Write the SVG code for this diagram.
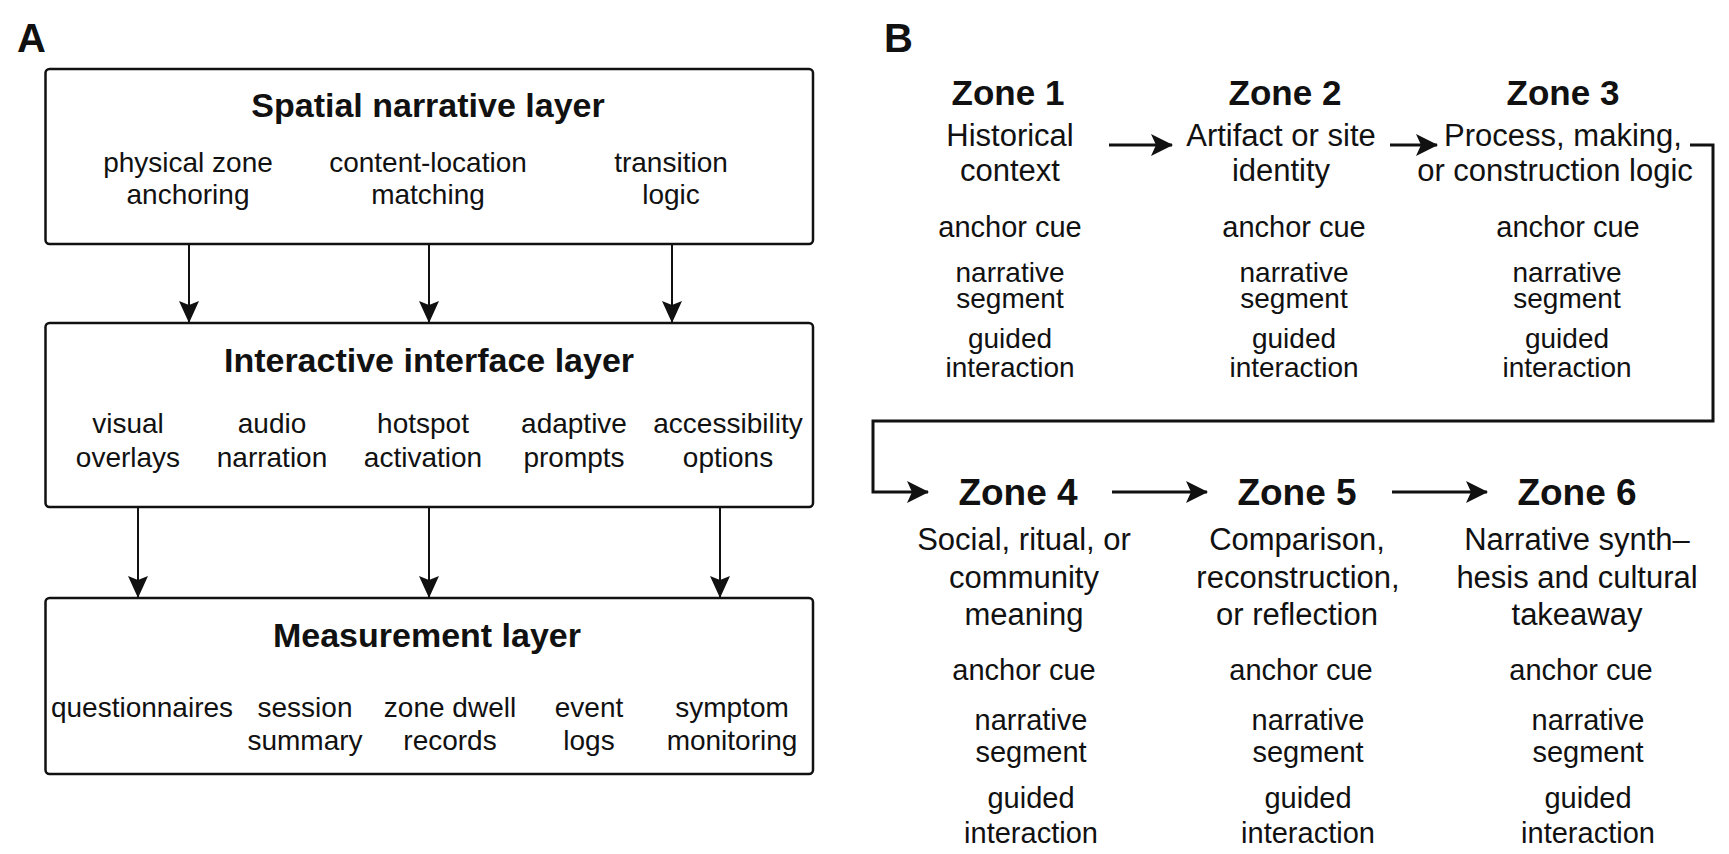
<svg xmlns="http://www.w3.org/2000/svg" width="1729" height="854" viewBox="0 0 1729 854">
<style>
text{font-family:"Liberation Sans",Arial,sans-serif;fill:#111;text-anchor:middle}
.panel{font-size:40px;font-weight:bold;text-anchor:start}
.ttl{font-size:34px;font-weight:bold}
.sub{font-size:28px}
.zt{font-size:35px;font-weight:bold}
.zt2{font-size:37px;font-weight:bold}
.zd{font-size:31px}
.zi{font-size:29px}
.zs{font-size:28px}
.box{fill:#fff;stroke:#111;stroke-width:2.5}
.ca{stroke:#111;stroke-width:2;fill:none}
.cb{stroke:#111;stroke-width:3;fill:none}
</style>
<defs>
<marker id="ha" viewBox="0 0 22 20" refX="21" refY="10" markerWidth="22" markerHeight="20" markerUnits="userSpaceOnUse" orient="auto"><path d="M0,0 L22,10 L0,20 L4,10 z" fill="#111"/></marker>
<marker id="hb" viewBox="0 0 22 22" refX="21" refY="11" markerWidth="22" markerHeight="22" markerUnits="userSpaceOnUse" orient="auto"><path d="M0,0 L22,11 L0,22 L5,11 z" fill="#111"/></marker>
</defs>
<rect width="1729" height="854" fill="#fff"/>
<text class="panel" x="17" y="52">A</text>
<text class="panel" x="884" y="52">B</text>

<g id="connectors">
<line class="ca" x1="189" y1="244" x2="189" y2="322" marker-end="url(#ha)"/>
<line class="ca" x1="429" y1="244" x2="429" y2="322" marker-end="url(#ha)"/>
<line class="ca" x1="672" y1="244" x2="672" y2="322" marker-end="url(#ha)"/>
<line class="ca" x1="138" y1="507" x2="138" y2="597" marker-end="url(#ha)"/>
<line class="ca" x1="429" y1="507" x2="429" y2="597" marker-end="url(#ha)"/>
<line class="ca" x1="720" y1="507" x2="720" y2="597" marker-end="url(#ha)"/>
<line class="cb" x1="1109" y1="145" x2="1172" y2="145" marker-end="url(#hb)"/>
<line class="cb" x1="1390" y1="145" x2="1437" y2="145" marker-end="url(#hb)"/>
<path class="cb" d="M1690,145 H1713 V421 H873 V492 H928" marker-end="url(#hb)"/>
<line class="cb" x1="1112" y1="492" x2="1207" y2="492" marker-end="url(#hb)"/>
<line class="cb" x1="1392" y1="492" x2="1487" y2="492" marker-end="url(#hb)"/>
</g>

<g id="spatial">
<rect class="box" x="45.5" y="69" width="767.5" height="175" rx="4"/>
<text class="ttl" x="428" y="117">Spatial narrative layer</text>
<text class="sub" x="188" y="172">physical zone</text><text class="sub" x="188" y="204">anchoring</text>
<text class="sub" x="428" y="172">content-location</text><text class="sub" x="428" y="204">matching</text>
<text class="sub" x="671" y="172">transition</text><text class="sub" x="671" y="204">logic</text>
</g>

<g id="interface">
<rect class="box" x="45.5" y="323" width="767.5" height="184" rx="4"/>
<text class="ttl" x="429" y="372">Interactive interface layer</text>
<text class="sub" x="128" y="433">visual</text><text class="sub" x="128" y="467">overlays</text>
<text class="sub" x="272" y="433">audio</text><text class="sub" x="272" y="467">narration</text>
<text class="sub" x="423" y="433">hotspot</text><text class="sub" x="423" y="467">activation</text>
<text class="sub" x="574" y="433">adaptive</text><text class="sub" x="574" y="467">prompts</text>
<text class="sub" x="728" y="433">accessibility</text><text class="sub" x="728" y="467">options</text>
</g>

<g id="measurement">
<rect class="box" x="45.5" y="598" width="767.5" height="176" rx="4"/>
<text class="ttl" x="427" y="647">Measurement layer</text>
<text class="sub" x="142" y="717">questionnaires</text>
<text class="sub" x="305" y="717">session</text><text class="sub" x="305" y="750">summary</text>
<text class="sub" x="450" y="717">zone dwell</text><text class="sub" x="450" y="750">records</text>
<text class="sub" x="589" y="717">event</text><text class="sub" x="589" y="750">logs</text>
<text class="sub" x="732" y="717">symptom</text><text class="sub" x="732" y="750">monitoring</text>
</g>

<g id="zone1">
<text class="zt" x="1008" y="105">Zone 1</text>
<text class="zd" x="1010" y="146">Historical</text><text class="zd" x="1010" y="181">context</text>
<text class="zi" x="1010" y="237">anchor cue</text>
<text class="zs" x="1010" y="282">narrative</text><text class="zs" x="1010" y="308">segment</text>
<text class="zs" x="1010" y="348">guided</text><text class="zs" x="1010" y="377">interaction</text>
</g>
<g id="zone2">
<text class="zt" x="1285" y="105">Zone 2</text>
<text class="zd" x="1281" y="146">Artifact or site</text><text class="zd" x="1281" y="181">identity</text>
<text class="zi" x="1294" y="237">anchor cue</text>
<text class="zs" x="1294" y="282">narrative</text><text class="zs" x="1294" y="308">segment</text>
<text class="zs" x="1294" y="348">guided</text><text class="zs" x="1294" y="377">interaction</text>
</g>
<g id="zone3">
<text class="zt" x="1563" y="105">Zone 3</text>
<text class="zd" x="1563" y="146">Process, making,</text><text class="zd" x="1555" y="181">or construction logic</text>
<text class="zi" x="1568" y="237">anchor cue</text>
<text class="zs" x="1567" y="282">narrative</text><text class="zs" x="1567" y="308">segment</text>
<text class="zs" x="1567" y="348">guided</text><text class="zs" x="1567" y="377">interaction</text>
</g>
<g id="zone4">
<text class="zt2" x="1018" y="505">Zone 4</text>
<text class="zd" x="1024" y="550">Social, ritual, or</text><text class="zd" x="1024" y="588">community</text><text class="zd" x="1024" y="625">meaning</text>
<text class="zi" x="1024" y="680">anchor cue</text>
<text class="zi" x="1031" y="730">narrative</text><text class="zi" x="1031" y="762">segment</text>
<text class="zi" x="1031" y="808">guided</text><text class="zi" x="1031" y="843">interaction</text>
</g>
<g id="zone5">
<text class="zt2" x="1297" y="505">Zone 5</text>
<text class="zd" x="1297" y="550">Comparison,</text><text class="zd" x="1298" y="588">reconstruction,</text><text class="zd" x="1297" y="625">or reflection</text>
<text class="zi" x="1301" y="680">anchor cue</text>
<text class="zi" x="1308" y="730">narrative</text><text class="zi" x="1308" y="762">segment</text>
<text class="zi" x="1308" y="808">guided</text><text class="zi" x="1308" y="843">interaction</text>
</g>
<g id="zone6">
<text class="zt2" x="1577" y="505">Zone 6</text>
<text class="zd" x="1577" y="550">Narrative synth–</text><text class="zd" x="1577" y="588">hesis and cultural</text><text class="zd" x="1577" y="625">takeaway</text>
<text class="zi" x="1581" y="680">anchor cue</text>
<text class="zi" x="1588" y="730">narrative</text><text class="zi" x="1588" y="762">segment</text>
<text class="zi" x="1588" y="808">guided</text><text class="zi" x="1588" y="843">interaction</text>
</g>
</svg>
